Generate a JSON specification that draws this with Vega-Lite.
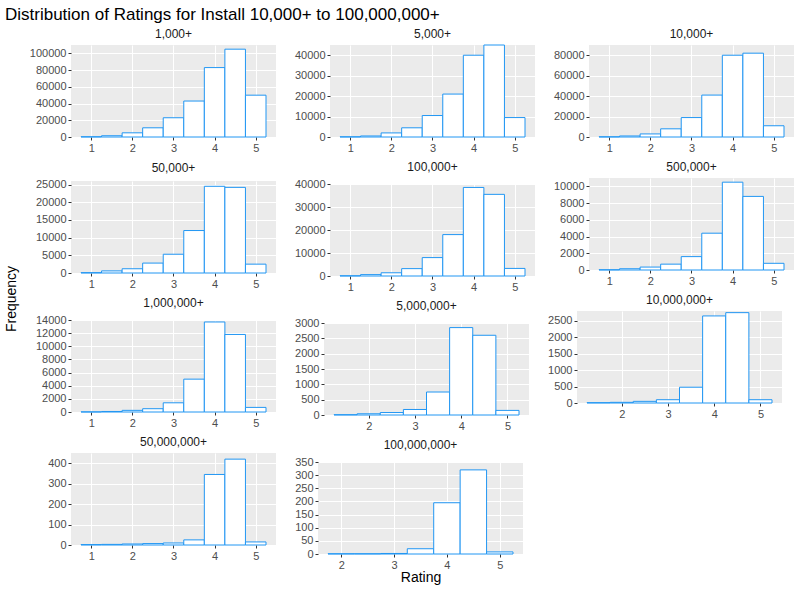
{
  "$schema": "https://vega.github.io/schema/vega-lite/v6.json",
  "title": {"text": "Distribution of Ratings for Install 10,000+ to 100,000,000+", "anchor": "start", "fontSize": 17, "fontWeight": "normal", "font": "Liberation Sans"},
  "config": {
    "font": "Liberation Sans",
    "view": {"fill": "#EBEBEB", "stroke": null},
    "axis": {"domain": false, "gridColor": "#FFFFFF", "tickColor": "#333333", "labelColor": "#4D4D4D", "labelFontSize": 11, "tickSize": 3},
    "header": {"labelFontSize": 12, "labelColor": "#1A1A1A"}
  },
  "vconcat": [
    {
      "data": {"values": [
        {"g":"1,000+","r":1,"n":300},{"g":"1,000+","r":1.5,"n":1500},{"g":"1,000+","r":2,"n":5000},{"g":"1,000+","r":2.5,"n":11000},{"g":"1,000+","r":3,"n":23000},{"g":"1,000+","r":3.5,"n":43000},{"g":"1,000+","r":4,"n":83000},{"g":"1,000+","r":4.5,"n":105000},{"g":"1,000+","r":5,"n":50000},
        {"g":"5,000+","r":1,"n":100},{"g":"5,000+","r":1.5,"n":500},{"g":"5,000+","r":2,"n":2000},{"g":"5,000+","r":2.5,"n":4500},{"g":"5,000+","r":3,"n":10500},{"g":"5,000+","r":3.5,"n":21000},{"g":"5,000+","r":4,"n":40000},{"g":"5,000+","r":4.5,"n":45000},{"g":"5,000+","r":5,"n":9500},
        {"g":"10,000+","r":1,"n":200},{"g":"10,000+","r":1.5,"n":1000},{"g":"10,000+","r":2,"n":3000},{"g":"10,000+","r":2.5,"n":8000},{"g":"10,000+","r":3,"n":19000},{"g":"10,000+","r":3.5,"n":41000},{"g":"10,000+","r":4,"n":80000},{"g":"10,000+","r":4.5,"n":82000},{"g":"10,000+","r":5,"n":11000},
        {"g":"50,000+","r":1,"n":100},{"g":"50,000+","r":1.5,"n":600},{"g":"50,000+","r":2,"n":1200},{"g":"50,000+","r":2.5,"n":2800},{"g":"50,000+","r":3,"n":5300},{"g":"50,000+","r":3.5,"n":12000},{"g":"50,000+","r":4,"n":24500},{"g":"50,000+","r":4.5,"n":24200},{"g":"50,000+","r":5,"n":2500},
        {"g":"100,000+","r":1,"n":100},{"g":"100,000+","r":1.5,"n":600},{"g":"100,000+","r":2,"n":1400},{"g":"100,000+","r":2.5,"n":3200},{"g":"100,000+","r":3,"n":8000},{"g":"100,000+","r":3.5,"n":18000},{"g":"100,000+","r":4,"n":38500},{"g":"100,000+","r":4.5,"n":35500},{"g":"100,000+","r":5,"n":3300},
        {"g":"500,000+","r":1,"n":30},{"g":"500,000+","r":1.5,"n":150},{"g":"500,000+","r":2,"n":350},{"g":"500,000+","r":2.5,"n":700},{"g":"500,000+","r":3,"n":1600},{"g":"500,000+","r":3.5,"n":4400},{"g":"500,000+","r":4,"n":10500},{"g":"500,000+","r":4.5,"n":8800},{"g":"500,000+","r":5,"n":800},
        {"g":"1,000,000+","r":1,"n":20},{"g":"1,000,000+","r":1.5,"n":80},{"g":"1,000,000+","r":2,"n":250},{"g":"1,000,000+","r":2.5,"n":500},{"g":"1,000,000+","r":3,"n":1400},{"g":"1,000,000+","r":3.5,"n":5000},{"g":"1,000,000+","r":4,"n":13700},{"g":"1,000,000+","r":4.5,"n":11800},{"g":"1,000,000+","r":5,"n":700},
        {"g":"5,000,000+","r":1.5,"n":10},{"g":"5,000,000+","r":2,"n":40},{"g":"5,000,000+","r":2.5,"n":80},{"g":"5,000,000+","r":3,"n":180},{"g":"5,000,000+","r":3.5,"n":750},{"g":"5,000,000+","r":4,"n":2850},{"g":"5,000,000+","r":4.5,"n":2600},{"g":"5,000,000+","r":5,"n":150},
        {"g":"10,000,000+","r":1.5,"n":10},{"g":"10,000,000+","r":2,"n":20},{"g":"10,000,000+","r":2.5,"n":50},{"g":"10,000,000+","r":3,"n":100},{"g":"10,000,000+","r":3.5,"n":480},{"g":"10,000,000+","r":4,"n":2650},{"g":"10,000,000+","r":4.5,"n":2750},{"g":"10,000,000+","r":5,"n":100},
        {"g":"50,000,000+","r":1,"n":2},{"g":"50,000,000+","r":1.5,"n":3},{"g":"50,000,000+","r":2,"n":5},{"g":"50,000,000+","r":2.5,"n":7},{"g":"50,000,000+","r":3,"n":10},{"g":"50,000,000+","r":3.5,"n":25},{"g":"50,000,000+","r":4,"n":345},{"g":"50,000,000+","r":4.5,"n":420},{"g":"50,000,000+","r":5,"n":15},
        {"g":"100,000,000+","r":2,"n":1},{"g":"100,000,000+","r":2.5,"n":1},{"g":"100,000,000+","r":3,"n":2},{"g":"100,000,000+","r":3.5,"n":20},{"g":"100,000,000+","r":4,"n":195},{"g":"100,000,000+","r":4.5,"n":320},{"g":"100,000,000+","r":5,"n":8}
      ]},
      "transform": [{"calculate": "datum.r - 0.25", "as": "lo"}, {"calculate": "datum.r + 0.25", "as": "hi"}],
      "facet": {
        "field": "g", "type": "nominal", "title": "Frequency",
        "sort": ["1,000+","5,000+","10,000+","50,000+","100,000+","500,000+","1,000,000+","5,000,000+","10,000,000+","50,000,000+","100,000,000+"],
        "header": {"titleOrient": "left", "titleFontSize": 14, "titleFontWeight": "normal", "labelPadding": 4}
      },
      "columns": 3,
      "spacing": {"row": 8, "column": 18},
      "resolve": {"scale": {"x": "independent", "y": "independent"}, "axis": {"x": "independent", "y": "independent"}},
      "spec": {
        "width": 205,
        "height": 92,
        "mark": {"type": "bar", "fill": "#FFFFFF", "stroke": "#2196F3", "strokeWidth": 1},
        "encoding": {
          "x": {"field": "lo", "type": "quantitative", "scale": {"zero": false, "nice": false, "padding": 10}, "axis": {"title": null, "tickMinStep": 1, "format": "d"}},
          "x2": {"field": "hi"},
          "y": {"field": "n", "type": "quantitative", "scale": {"zero": true}, "axis": {"title": null, "tickCount": 5, "format": "d"}},
          "y2": {"datum": 0}
        }
      }
    },
    {
      "width": 700, "height": 1,
      "data": {"values": [{}]},
      "mark": {"type": "text", "text": ""},
      "encoding": {},
      "view": {"fill": null},
      "title": {"text": "Rating", "orient": "top", "anchor": "middle", "fontSize": 14, "fontWeight": "normal", "offset": 0}
    }
  ],
  "spacing": 0
}
